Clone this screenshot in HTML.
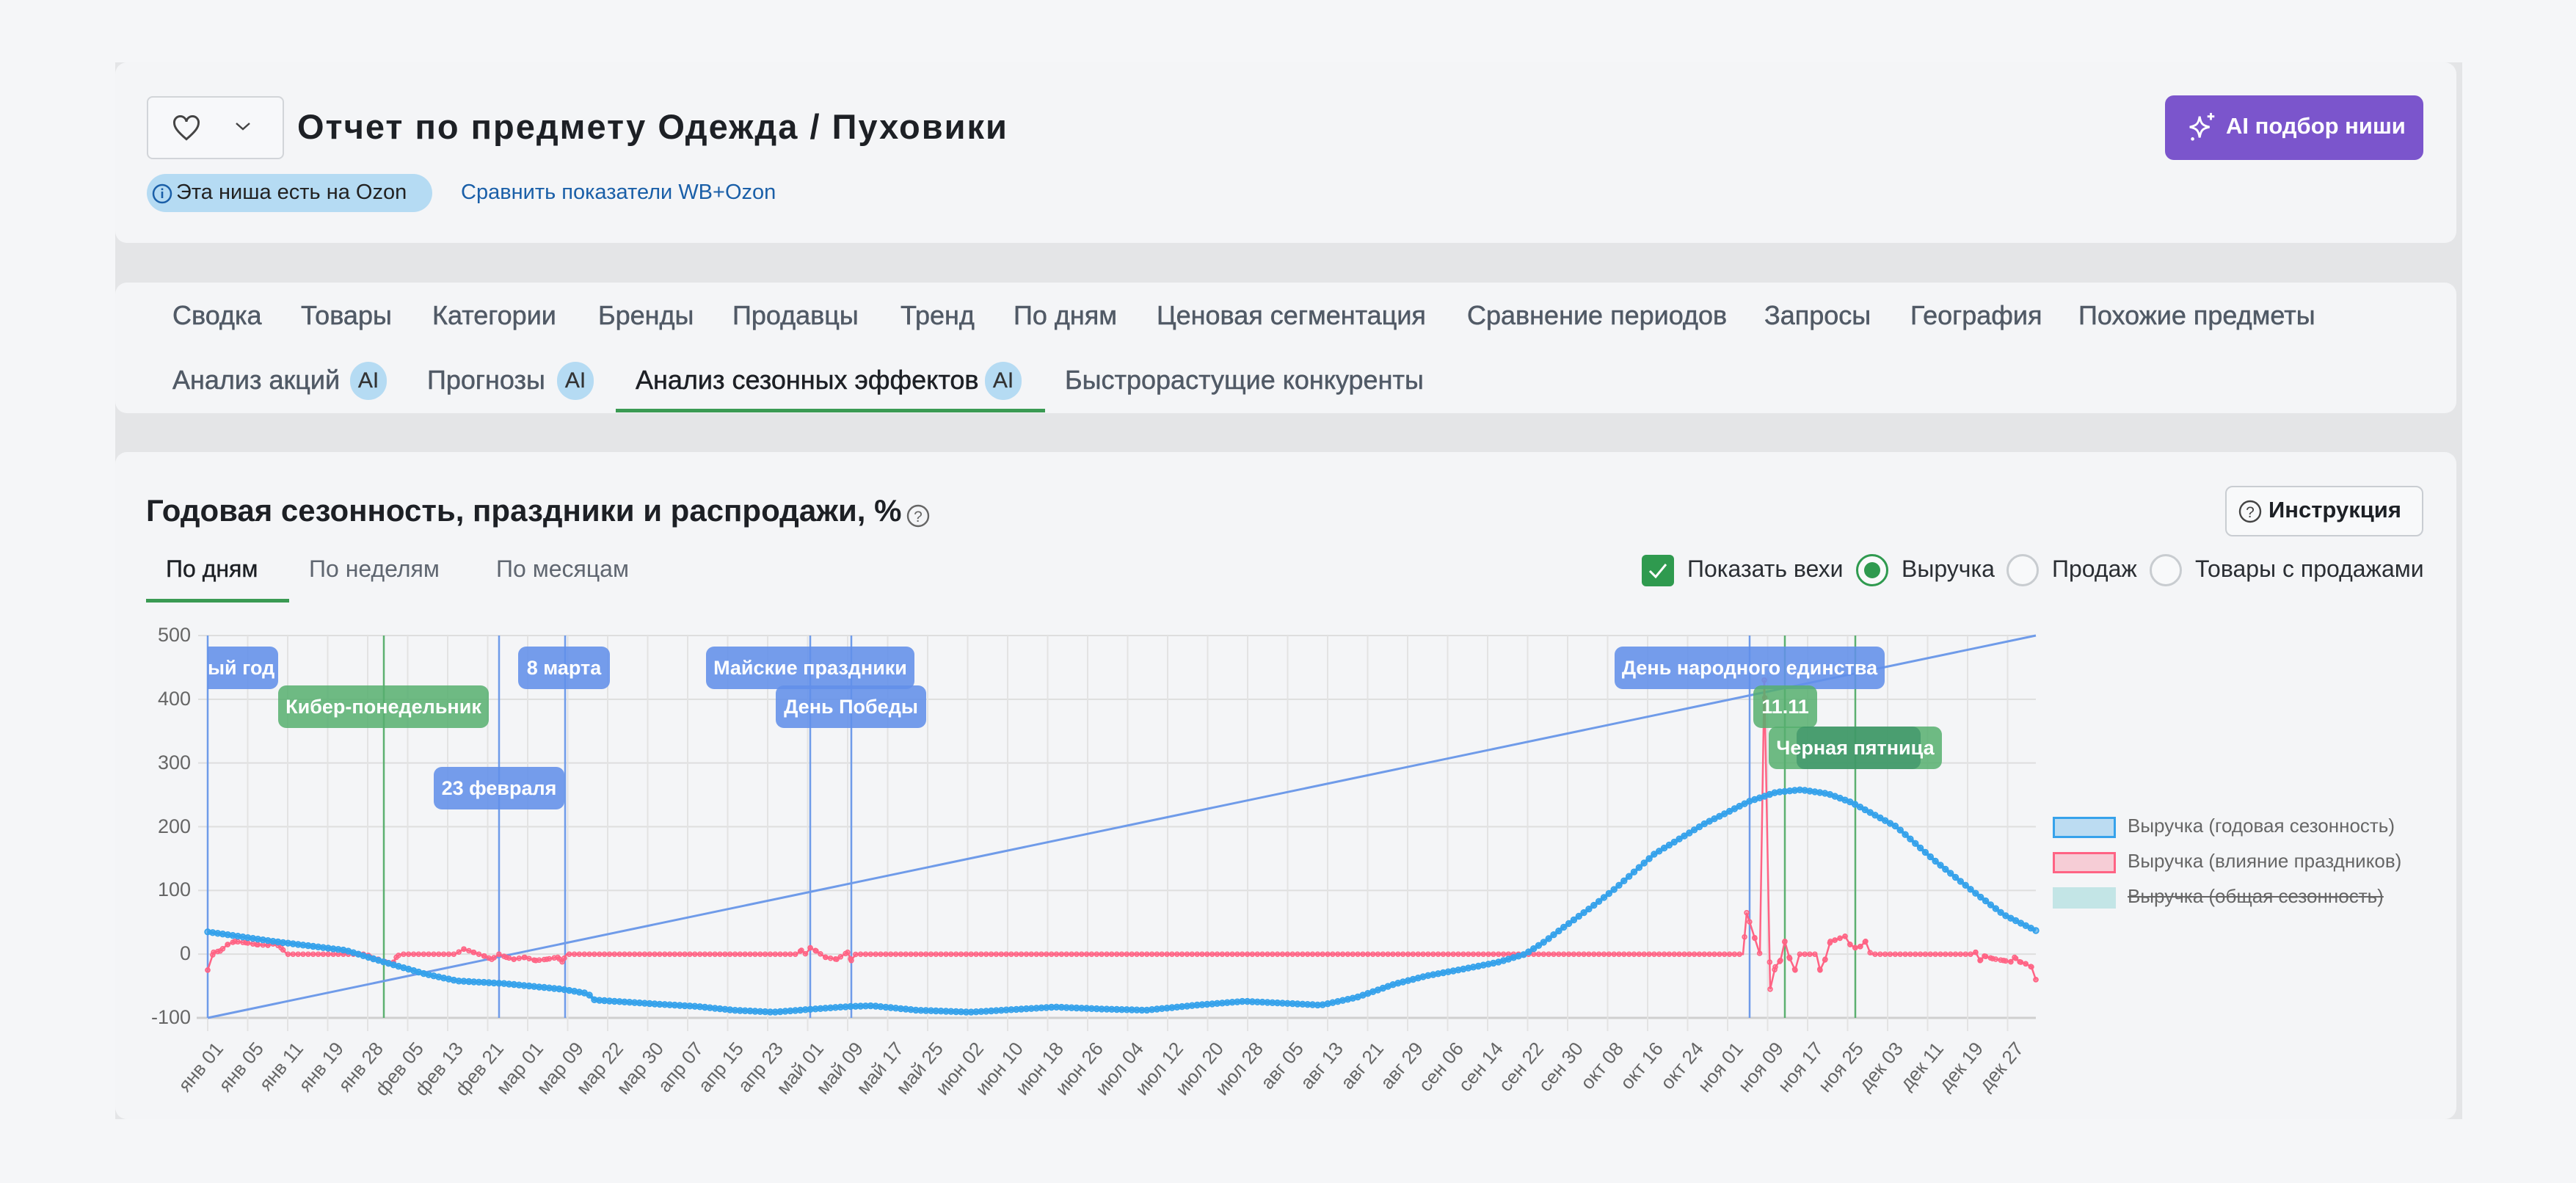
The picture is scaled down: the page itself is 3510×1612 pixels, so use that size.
<!DOCTYPE html>
<html><head><meta charset="utf-8">
<style>
*{box-sizing:border-box;margin:0;padding:0}
body{width:3510px;height:1612px;background:#f5f6f8;font-family:"Liberation Sans","Noto Sans CJK SC",sans-serif;position:relative;overflow:hidden;color:#1f2328}
.abs{position:absolute;white-space:nowrap}
.wrap{position:absolute;left:157px;top:85px;width:3198px;height:1440px;background:#e4e5e7}
.card{position:absolute;left:157px;width:3190px;background:#f4f5f7;border-radius:16px}
.tab{position:absolute;font-size:36px;color:#515a66;-webkit-text-stroke:0.5px #515a66;top:409px}
.tab2{top:497px}
.ai{display:inline-block;width:50px;height:52px;border-radius:26px;background:#b5dbf3;color:#333;font-size:30px;text-align:center;line-height:52px;-webkit-text-stroke:0.3px #333;position:absolute}
.ylab{position:absolute;right:3250px;font-size:27px;color:#666;text-align:right}
.xlab{position:absolute;width:140px;text-align:right;font-size:26px;color:#666;transform-origin:100% 0;transform:rotate(-50deg)}
.ev{position:absolute;height:58px;border-radius:11px;color:#fff;font-weight:bold;font-size:27px;line-height:58px;text-align:center;white-space:nowrap;overflow:hidden}
.b{background:rgba(98,143,233,0.88)}
.g{background:rgba(86,175,110,0.85)}
.leg{position:absolute;left:2899px;font-size:26px;color:#666}
.lbox{position:absolute;left:2797px;width:86px;height:29px}
.radio{position:absolute;width:44px;height:44px;border-radius:50%;border:3px solid #c8ccd0;top:755px;background:#f8f9fa}
.ctl{position:absolute;top:757px;font-size:32px;color:#2a2e33}
</style></head><body>
<div class="wrap"></div>
<div class="card" style="top:85px;height:246px"></div>
<div class="card" style="top:385px;height:178px"></div>
<div class="card" style="top:616px;height:909px"></div>

<div class="abs" style="left:200px;top:131px;width:187px;height:86px;border:2px solid #d2d5d9;border-radius:8px;background:#f7f8fa"></div>
<svg class="abs" style="left:232px;top:153px" width="44" height="44" viewBox="0 0 24 24"><path d="M12 20 C5 14 3 11 3 8 a4.5 4.5 0 0 1 9 -1 a4.5 4.5 0 0 1 9 1 c0 3 -2 6 -9 12z" fill="none" stroke="#444" stroke-width="1.6"/></svg>
<svg class="abs" style="left:318px;top:162px" width="26" height="20" viewBox="0 0 26 20"><path d="M4 6 L13 14 L22 6" fill="none" stroke="#444" stroke-width="2.4"/></svg>
<div class="abs" style="left:405px;top:145px;font-size:47px;font-weight:bold;color:#1d2025;letter-spacing:2px">Отчет по предмету Одежда / Пуховики</div>
<div class="abs" style="left:200px;top:237px;width:389px;height:52px;border-radius:26px;background:#b5dbf3"></div>
<svg class="abs" style="left:206px;top:249px" width="30" height="30"><circle cx="15" cy="15" r="12" fill="none" stroke="#1a5fa8" stroke-width="2.5"/><rect x="13.7" y="12" width="2.6" height="9" fill="#1a5fa8"/><rect x="13.7" y="7.5" width="2.6" height="2.6" fill="#1a5fa8"/></svg>
<div class="abs" style="left:240px;top:246px;font-size:29px;color:#222">Эта ниша есть на Ozon</div>
<div class="abs" style="left:628px;top:246px;font-size:29px;color:#1a5fa8">Сравнить показатели WB+Ozon</div>
<div class="abs" style="left:2950px;top:130px;width:352px;height:88px;border-radius:12px;background:#7b55cc"></div>
<svg class="abs" style="left:2978px;top:150px" width="46" height="48" viewBox="0 0 24 24"><path d="M10 4 C10.8 9 12 10.5 17 11.5 C12 12.5 10.8 14 10 19 C9.2 14 8 12.5 3 11.5 C8 10.5 9.2 9 10 4z" fill="none" stroke="#fff" stroke-width="1.5"/><path d="M18 1.5v5M15.5 4h5" stroke="#fff" stroke-width="1.5"/><circle cx="5" cy="20" r="1.2" fill="#fff"/></svg>
<div class="abs" style="left:3033px;top:154px;font-size:31px;font-weight:bold;color:#fff">AI подбор ниши</div>

<div class="tab" style="left:235px">Сводка</div>
<div class="tab" style="left:410px">Товары</div>
<div class="tab" style="left:589px">Категории</div>
<div class="tab" style="left:815px">Бренды</div>
<div class="tab" style="left:998px">Продавцы</div>
<div class="tab" style="left:1227px">Тренд</div>
<div class="tab" style="left:1381px">По дням</div>
<div class="tab" style="left:1576px">Ценовая сегментация</div>
<div class="tab" style="left:1999px">Сравнение периодов</div>
<div class="tab" style="left:2404px">Запросы</div>
<div class="tab" style="left:2603px">География</div>
<div class="tab" style="left:2832px">Похожие предметы</div>
<div class="tab tab2" style="left:235px">Анализ акций</div><div class="ai" style="left:477px;top:493px">AI</div>
<div class="tab tab2" style="left:582px">Прогнозы</div><div class="ai" style="left:759px;top:493px">AI</div>
<div class="tab tab2" style="left:866px;color:#1d2025;-webkit-text-stroke:0.5px #1d2025">Анализ сезонных эффектов</div><div class="ai" style="left:1342px;top:493px">AI</div>
<div class="tab tab2" style="left:1451px">Быстрорастущие конкуренты</div>
<div class="abs" style="left:839px;top:557px;width:585px;height:5px;background:#3a9a53"></div>

<div class="abs" style="left:199px;top:672px;font-size:42px;font-weight:bold;color:#1d2025">Годовая сезонность, праздники и распродажи, %</div>
<svg class="abs" style="left:1234px;top:686px" width="34" height="34"><circle cx="17" cy="17" r="14" fill="none" stroke="#666" stroke-width="2.4"/><text x="17" y="25" font-size="21" text-anchor="middle" fill="#666" font-family="Liberation Sans">?</text></svg>
<div class="abs" style="left:3032px;top:662px;width:270px;height:69px;border:2px solid #c9cdd2;border-radius:10px;background:#f8f9fa"></div>
<svg class="abs" style="left:3048px;top:679px" width="36" height="36"><circle cx="18" cy="18" r="14" fill="none" stroke="#444" stroke-width="2.4"/><text x="18" y="26" font-size="21" text-anchor="middle" fill="#444" font-family="Liberation Sans">?</text></svg>
<div class="abs" style="left:3091px;top:677px;font-size:31px;font-weight:bold;color:#1d2025">Инструкция</div>
<div class="abs" style="left:226px;top:757px;font-size:32px;color:#1d2025;-webkit-text-stroke:0.4px #1d2025">По дням</div>
<div class="abs" style="left:421px;top:757px;font-size:32px;color:#5f6670">По неделям</div>
<div class="abs" style="left:676px;top:757px;font-size:32px;color:#5f6670">По месяцам</div>
<div class="abs" style="left:199px;top:816px;width:195px;height:5px;background:#3a9a53"></div>
<div class="abs" style="left:2237px;top:756px;width:44px;height:43px;border-radius:6px;background:#2f9a4f"></div>
<svg class="abs" style="left:2237px;top:756px" width="44" height="43"><path d="M11 22 L19 30 L33 13" fill="none" stroke="#fff" stroke-width="3"/></svg>
<div class="ctl" style="left:2299px">Показать вехи</div>
<div class="radio" style="left:2529px;border-color:#2f9a4f"></div>
<div class="abs" style="left:2540px;top:766px;width:22px;height:22px;border-radius:50%;background:#2f9a4f"></div>
<div class="ctl" style="left:2591px">Выручка</div>
<div class="radio" style="left:2734px"></div>
<div class="ctl" style="left:2796px">Продаж</div>
<div class="radio" style="left:2929px"></div>
<div class="ctl" style="left:2991px">Товары с продажами</div>

<svg id="ch" class="abs" style="left:0;top:0" width="3510" height="1612"></svg>
<div id="labs"></div>

<div class="ev b" style="left:283px;top:881px;width:96px;border-radius:0 11px 11px 0;text-align:right;padding-right:12px">ый год</div>
<div class="ev g" style="left:379px;top:934px;width:287px">Кибер-понедельник</div>
<div class="ev b" style="left:706px;top:881px;width:125px">8 марта</div>
<div class="ev b" style="left:591px;top:1045px;width:178px">23 февраля</div>
<div class="ev b" style="left:962px;top:881px;width:284px">Майские праздники</div>
<div class="ev b" style="left:1057px;top:934px;width:205px">День Победы</div>
<div class="ev b" style="left:2200px;top:881px;width:368px">День народного единства</div>
<div class="ev g" style="left:2389px;top:934px;width:87px">11.11</div>
<div class="ev g" style="left:2410px;top:990px;width:236px"></div>
<div class="ev g" style="left:2448px;top:990px;width:169px;background:rgba(50,140,100,0.6)"></div>
<div class="ev" style="left:2410px;top:990px;width:236px;background:none">Черная пятница</div>

<div class="lbox" style="top:1113px;background:#bcdcf2;border:3px solid #36a2eb"></div>
<div class="leg" style="top:1110px">Выручка (годовая сезонность)</div>
<div class="lbox" style="top:1161px;background:#f6cdd6;border:3px solid #ff6384"></div>
<div class="leg" style="top:1158px">Выручка (влияние праздников)</div>
<div class="lbox" style="top:1209px;background:#c3e5e6"></div>
<div class="leg" style="top:1206px;text-decoration:line-through;text-decoration-thickness:2px;color:#666">Выручка (общая сезонность)</div>

<script>
var X0=283,X1=2774,YT=866,YB=1387;
function Y(v){return YB-(v+100)*(YB-YT)/600;}
var s='';
for(var v=-100;v<=500;v+=100){var y=Y(v);s+='<line x1="'+(v==-100?268:270)+'" y1="'+y+'" x2="'+X1+'" y2="'+y+'" stroke="'+(v==-100?'#cfcfcf':'#dedede')+'" stroke-width="'+(v==-100?3:2)+'"/>';}
var labs=['янв 01','янв 05','янв 11','янв 19','янв 28','фев 05','фев 13','фев 21','мар 01','мар 09','мар 22','мар 30','апр 07','апр 15','апр 23','май 01','май 09','май 17','май 25','июн 02','июн 10','июн 18','июн 26','июл 04','июл 12','июл 20','июл 28','авг 05','авг 13','авг 21','авг 29','сен 06','сен 14','сен 22','сен 30','окт 08','окт 16','окт 24','ноя 01','ноя 09','ноя 17','ноя 25','дек 03','дек 11','дек 19','дек 27'];
var h='';
for(var i=0;i<labs.length;i++){var x=X0+i*54.5;s+='<line x1="'+x+'" y1="'+YT+'" x2="'+x+'" y2="1405" stroke="#e3e3e3" stroke-width="2"/>';
h+='<div class="xlab" style="left:'+(x-136)+'px;top:1414px">'+labs[i]+'</div>';}
[500,400,300,200,100,0,-100].forEach(function(v){h+='<div class="ylab" style="top:'+(Y(v)-16)+'px">'+v+'</div>';});
document.getElementById('labs').innerHTML=h;
[[283,'#6f9be9'],[523,'#5cb070'],[680,'#6f9be9'],[770,'#6f9be9'],[1104,'#6f9be9'],[1160,'#6f9be9'],[2384,'#6f9be9'],[2432,'#5cb070'],[2528,'#5cb070']].forEach(function(e){s+='<line x1="'+e[0]+'" y1="'+YT+'" x2="'+e[0]+'" y2="'+YB+'" stroke="'+e[1]+'" stroke-width="2.5"/>';});
s+='<line x1="'+X0+'" y1="'+YB+'" x2="'+X1+'" y2="'+YT+'" stroke="#6f9be9" stroke-width="3"/>';
function interp(k,x){for(var i=1;i<k.length;i++){if(x<=k[i][0]){var a=k[i-1],b=k[i];var t=(x-a[0])/(b[0]-a[0]||1);return a[1]+t*(b[1]-a[1]);}}return k[k.length-1][1];}
var blue=[[283,35],[373,20],[471,6],[525,-13],[579,-31],[623,-42],[686,-46],[766,-55],[802,-62],[806,-70],[811,-72],[891,-78],[949,-82],[1000,-88],[1054,-91],[1110,-86],[1159,-82],[1188,-81],[1250,-88],[1322,-91],[1380,-87],[1437,-83],[1500,-86],[1561,-88],[1630,-80],[1695,-74],[1750,-77],[1800,-80],[1848,-68],[1900,-47],[1944,-34],[2000,-22],[2040,-13],[2078,0],[2105,20],[2135,46],[2170,75],[2202,104],[2254,157],[2323,205],[2384,240],[2420,254],[2454,258],[2490,252],[2523,238],[2584,200],[2636,147],[2688,99],[2730,62],[2774,37]];
var red=[[283,-25],[291,3],[300,5],[310,15],[320,20],[335,18],[350,15],[365,14],[375,17],[383,10],[391,0],[500,0],[505,-5],[515,-8],[525,-12],[535,-15],[540,-5],[545,0],[620,0],[632,8],[645,3],[660,-3],[670,-8],[680,0],[690,-5],[700,-8],[715,-5],[730,-10],[745,-8],[760,-5],[766,-12],[772,0],[1085,0],[1092,6],[1098,0],[1104,10],[1112,5],[1125,-5],[1140,-8],[1155,3],[1160,-10],[1166,0],[2375,0],[2380,65],[2391,25],[2398,0],[2404,430],[2412,-55],[2419,-20],[2426,-10],[2432,20],[2438,-5],[2446,-25],[2452,0],[2475,0],[2480,-25],[2487,-8],[2494,20],[2500,22],[2507,25],[2514,28],[2521,15],[2528,10],[2535,12],[2542,20],[2549,0],[2688,0],[2692,3],[2698,-10],[2704,-3],[2715,-7],[2730,-10],[2740,-12],[2745,-5],[2752,-12],[2760,-15],[2768,-20],[2774,-40]];
var N=365,dx=(X1-X0)/(N-1);
var p='';red.forEach(function(q,i){p+=(i?'L':'M')+q[0]+' '+Y(q[1]).toFixed(1);});
s+='<path d="'+p+'" fill="none" stroke="#ff6384" stroke-width="2.5"/>';
for(var i=0;i<N;i++){var x=X0+i*dx;s+='<circle cx="'+x.toFixed(1)+'" cy="'+Y(interp(red,x)).toFixed(1)+'" r="3" fill="rgba(255,99,132,0.5)" stroke="#ff6384" stroke-width="1.5"/>';}
red.forEach(function(q){if(q[1]!=0)s+='<circle cx="'+q[0]+'" cy="'+Y(q[1]).toFixed(1)+'" r="3" fill="rgba(255,99,132,0.5)" stroke="#ff6384" stroke-width="1.5"/>';});
p='';for(var i=0;i<N;i++){var x=X0+i*dx;p+=(i?'L':'M')+x.toFixed(1)+' '+Y(interp(blue,x)).toFixed(1);}
s+='<path d="'+p+'" fill="none" stroke="#36a2eb" stroke-width="4.5"/>';
for(var i=0;i<N;i++){var x=X0+i*dx;s+='<circle cx="'+x.toFixed(1)+'" cy="'+Y(interp(blue,x)).toFixed(1)+'" r="3.8" fill="rgba(54,162,235,0.6)" stroke="#36a2eb" stroke-width="1.8"/>';}
document.getElementById('ch').innerHTML=s;
</script>
</body></html>
